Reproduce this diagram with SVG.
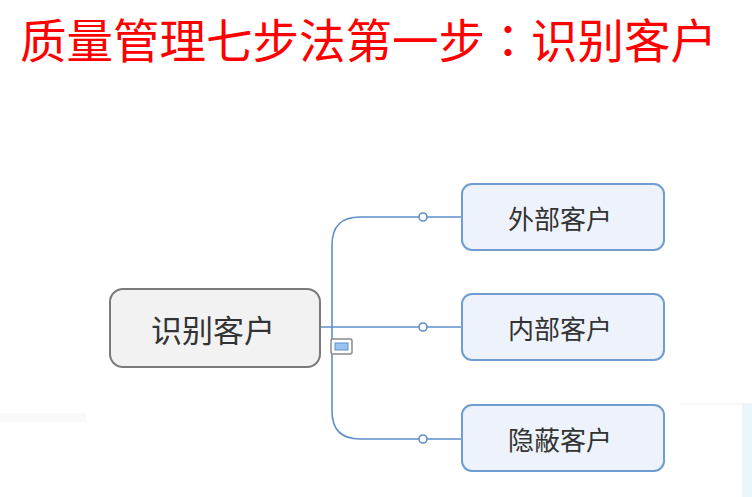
<svg xmlns="http://www.w3.org/2000/svg" width="752" height="497" viewBox="0 0 752 497">
<style>
.title{font-family:"Noto Sans CJK SC","Noto Sans",sans-serif;font-size:46.5px;fill:#ff0000}
.lbl{font-family:"Noto Sans CJK SC","Noto Sans",sans-serif;fill:#333333;text-anchor:middle;dominant-baseline:central}
.child rect{fill:#eef3fb;stroke:#6f9dd2;stroke-width:2}
.conn{fill:none;stroke:#5f8fcc;stroke-width:1.6}
.dot{fill:#ffffff;stroke:#5f8fcc;stroke-width:1.6}
</style>
<rect width="752" height="497" fill="#ffffff"/>
<rect x="0" y="413" width="86" height="9" fill="#f9f9f9"/>
<rect x="680" y="403" width="72" height="2" fill="#f8f8f8"/>
<rect x="742" y="403" width="10" height="94" fill="#ebf6fb"/>
<text class="title" x="20" y="58">质量管理七步法第一步</text>
<text class="title" x="508" y="58" text-anchor="middle" style="font-family:'Noto Sans CJK TC','Noto Sans CJK SC',sans-serif">：</text>
<text class="title" x="531" y="58">识别客户</text>
<g id="connectors">
<path class="conn" d="M320,327 H462"/>
<path class="conn" d="M332,327 V245 Q332,217 360,217 H462"/>
<path class="conn" d="M332,327 V411 Q332,439 360,439 H462"/>
<circle class="dot" cx="423" cy="217" r="4"/>
<circle class="dot" cx="423" cy="327" r="4"/>
<circle class="dot" cx="423" cy="439" r="4"/>
</g>
<g id="root">
<rect x="110" y="289" width="210" height="78" rx="13" fill="#f2f2f2" stroke="#7a7a7a" stroke-width="2"/>
<text class="lbl" x="213" y="328" font-size="31">识别客户</text>
</g>
<g id="collapse">
<rect x="331" y="339" width="21" height="15" rx="2" fill="#ffffff" stroke="#8a8a8a" stroke-width="1.5"/>
<rect x="335" y="343" width="13" height="7" fill="#9cc3f0" stroke="#5b8fd0" stroke-width="1"/>
</g>
<g id="external" class="child">
<rect x="462" y="184" width="202" height="66" rx="10"/>
<text class="lbl" x="560" y="217" font-size="26">外部客户</text>
</g>
<g id="internal" class="child">
<rect x="462" y="294" width="202" height="66" rx="10"/>
<text class="lbl" x="560" y="327" font-size="26">内部客户</text>
</g>
<g id="hidden" class="child">
<rect x="462" y="405" width="202" height="66" rx="10"/>
<text class="lbl" x="560" y="438" font-size="26">隐蔽客户</text>
</g>
</svg>
